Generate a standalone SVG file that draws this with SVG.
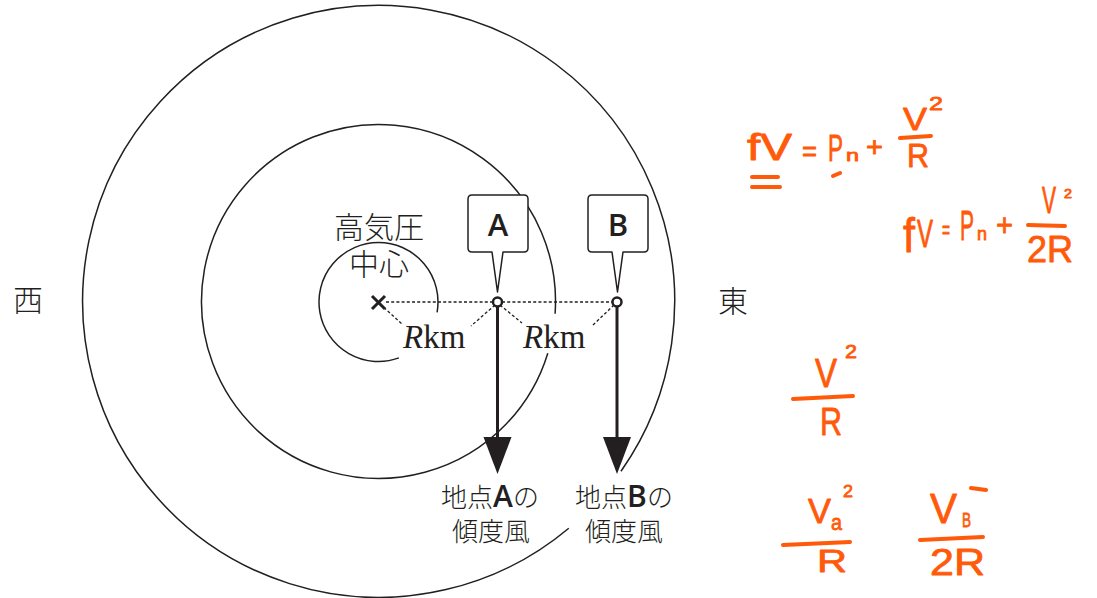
<svg xmlns="http://www.w3.org/2000/svg" width="1097" height="598" viewBox="0 0 1097 598">
<style>
.ring{fill:none;stroke:#231f20;stroke-width:1.5}
.dot{fill:none;stroke:#231f20;stroke-width:1.3;stroke-dasharray:3 2.2}
.arrow{fill:none;stroke:#231f20;stroke-width:3}
.pt{fill:#fff;stroke:#231f20;stroke-width:2.5}
.box{fill:#fff;stroke:#231f20;stroke-width:1.5;stroke-linejoin:round}
.jp{font-family:"Noto Sans CJK JP","Noto Sans",sans-serif;font-weight:300;fill:#231f20}
.lab{font-family:"Open Sans","Liberation Sans",sans-serif;font-weight:600;fill:#231f20}
.rk{font-family:"Liberation Serif",serif;fill:#231f20;font-size:33px}
.hw{font-family:"Liberation Sans",sans-serif;fill:#ff5a0a;stroke:#ff5a0a;stroke-width:0.8;stroke-linejoin:round}
.hl{stroke:#ff5a0a;stroke-width:4;stroke-linecap:round;fill:none}
</style>
<defs>
<marker id="head" markerUnits="userSpaceOnUse" markerWidth="38" markerHeight="30" refX="8" refY="14" orient="auto">
<path d="M0,0 L37,14 L0,28 Z" fill="#231f20"/>
</marker>
</defs>
<rect width="1097" height="598" fill="#fff"/>

<g id="isobars">
<path class="ring" d="M568.8,528.2 A296,296 0 1 1 621,471.3"/>
<path class="ring" d="M547.8,353.2 A177,177 0 1 1 555.1,313.8"/>
<path class="ring" d="M398.9,357.9 A59.5,59.5 0 1 1 437.1,312.3"/>
</g>

<g id="connectors">
<line class="dot" x1="386" y1="302" x2="492" y2="302"/>
<line class="dot" x1="502" y1="302" x2="612" y2="302"/>
<line class="dot" x1="380" y1="304" x2="402" y2="324"/>
<line class="dot" x1="495" y1="305" x2="471" y2="326"/>
<line class="dot" x1="500" y1="305" x2="522" y2="323"/>
<line class="dot" x1="614" y1="305" x2="593" y2="325"/>
<line class="arrow" x1="497.5" y1="306" x2="497.5" y2="445" marker-end="url(#head)"/>
<line class="arrow" x1="617" y1="306" x2="617" y2="445" marker-end="url(#head)"/>
</g>

<g id="center">
<path d="M372,296 L385,309 M385,296 L372,309" stroke="#231f20" stroke-width="3" fill="none"/>
<text class="jp" font-size="30" text-anchor="middle"><tspan x="379" y="238">高気圧</tspan><tspan x="379" y="275">中心</tspan></text>
</g>

<g id="dist1"><text class="rk" x="403" y="348"><tspan font-style="italic">R</tspan>km</text></g>
<g id="dist2"><text class="rk" x="523" y="348"><tspan font-style="italic">R</tspan>km</text></g>

<g id="nodeA">
<path class="box" d="M472,195 H524 Q528,195 528,199 V248 Q528,252 524,252 H503 L497.5,292 L492,252 H472 Q468,252 468,248 V199 Q468,195 472,195 Z"/>
<text class="lab" x="498" y="236" font-size="31" text-anchor="middle">A</text>
<circle class="pt" cx="497.5" cy="302" r="4.5"/>
</g>

<g id="nodeB">
<path class="box" d="M592,195 H644 Q648,195 648,199 V248 Q648,252 644,252 H623 L617.5,292 L612,252 H592 Q588,252 588,248 V199 Q588,195 592,195 Z"/>
<text class="lab" x="618" y="236" font-size="31" text-anchor="middle">B</text>
<circle class="pt" cx="617" cy="302" r="4.5"/>
</g>

<g id="windA">
<text class="jp" font-size="26" text-anchor="middle"><tspan x="490" y="507">地点<tspan class="lab" font-size="30">A</tspan>の</tspan><tspan x="491" y="541">傾度風</tspan></text>
</g>
<g id="windB">
<text class="jp" font-size="26" text-anchor="middle"><tspan x="624" y="507">地点<tspan class="lab" font-size="30">B</tspan>の</tspan><tspan x="624" y="541">傾度風</tspan></text>
</g>

<g id="west"><text class="jp" x="28" y="311" font-size="30" text-anchor="middle">西</text></g>
<g id="east"><text class="jp" x="733" y="312" font-size="30" text-anchor="middle">東</text></g>

<g id="notes">
<text class="hw" x="747" y="160" font-size="36" textLength="45" lengthAdjust="spacingAndGlyphs">fV</text>
<text class="hw" x="802" y="161" font-size="28" textLength="15" lengthAdjust="spacingAndGlyphs">=</text>
<text class="hw" x="828" y="161" font-size="36" textLength="15" lengthAdjust="spacingAndGlyphs">P</text>
<text class="hw" x="846" y="161" font-size="16" textLength="13" lengthAdjust="spacingAndGlyphs">n</text>
<text class="hw" x="866" y="156" font-size="28" textLength="17" lengthAdjust="spacingAndGlyphs">+</text>
<text class="hw" x="903" y="130" font-size="32" textLength="24" lengthAdjust="spacingAndGlyphs">V</text>
<text class="hw" x="929" y="110" font-size="18" textLength="14" lengthAdjust="spacingAndGlyphs">2</text>
<text class="hw" x="907" y="167" font-size="33" textLength="22" lengthAdjust="spacingAndGlyphs">R</text>
<path class="hl" d="M900,138 L931,136 M752,177 L778,177 M752,187 L780,187 M833,176 L840,173"/>

<text class="hw" x="903" y="252" font-size="48" textLength="12" lengthAdjust="spacingAndGlyphs">f</text>
<text class="hw" x="917" y="247" font-size="38" textLength="16" lengthAdjust="spacingAndGlyphs">V</text>
<text class="hw" x="942" y="238" font-size="26" textLength="8" lengthAdjust="spacingAndGlyphs">=</text>
<text class="hw" x="960" y="240" font-size="42" textLength="14" lengthAdjust="spacingAndGlyphs">P</text>
<text class="hw" x="977" y="240" font-size="19" textLength="10" lengthAdjust="spacingAndGlyphs">n</text>
<text class="hw" x="996" y="236" font-size="32" textLength="17" lengthAdjust="spacingAndGlyphs">+</text>
<text class="hw" x="1042" y="213" font-size="36" textLength="14" lengthAdjust="spacingAndGlyphs">V</text>
<text class="hw" x="1064" y="198" font-size="12" textLength="8" lengthAdjust="spacingAndGlyphs">2</text>
<text class="hw" x="1027" y="262" font-size="37" textLength="46" lengthAdjust="spacingAndGlyphs">2R</text>
<path class="hl" d="M1028,225 L1065,226"/>

<text class="hw" x="815" y="387" font-size="40" textLength="22" lengthAdjust="spacingAndGlyphs">V</text>
<text class="hw" x="845" y="358" font-size="18" textLength="12" lengthAdjust="spacingAndGlyphs">2</text>
<text class="hw" x="820" y="435" font-size="39" textLength="22" lengthAdjust="spacingAndGlyphs">R</text>
<path class="hl" d="M793,399 L853,396"/>

<text class="hw" x="808" y="523" font-size="35" textLength="23" lengthAdjust="spacingAndGlyphs">V</text>
<text class="hw" x="831" y="530" font-size="22" textLength="11" lengthAdjust="spacingAndGlyphs">a</text>
<text class="hw" x="843" y="497" font-size="17" textLength="10" lengthAdjust="spacingAndGlyphs">2</text>
<text class="hw" x="817" y="572" font-size="31" textLength="30" lengthAdjust="spacingAndGlyphs">R</text>
<path class="hl" d="M783,545 L850,542"/>

<text class="hw" x="930" y="523" font-size="43" textLength="27" lengthAdjust="spacingAndGlyphs">V</text>
<text class="hw" x="962" y="527" font-size="20" textLength="9" lengthAdjust="spacingAndGlyphs">B</text>
<text class="hw" x="930" y="575" font-size="37" textLength="55" lengthAdjust="spacingAndGlyphs">2R</text>
<path class="hl" d="M920,540 L983,537 M971,488 L986,490"/>
</g>
</svg>
